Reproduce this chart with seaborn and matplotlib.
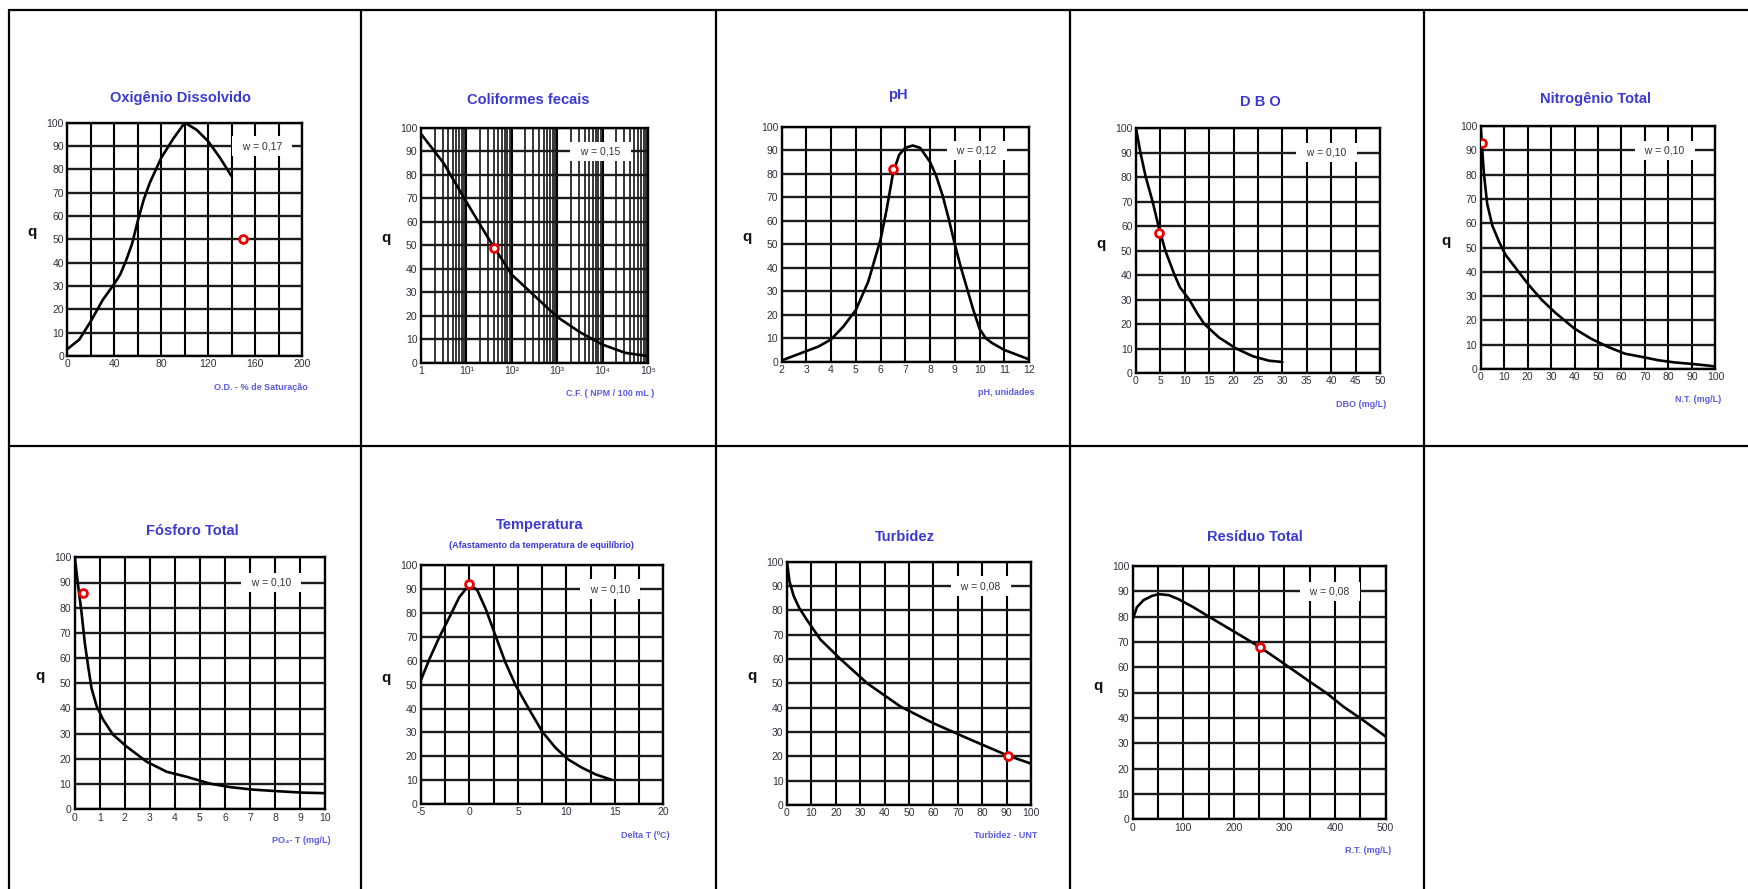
import matplotlib
matplotlib.use('Agg')
import matplotlib.pyplot as plt
from matplotlib.lines import Line2D
from matplotlib.ticker import LogLocator, NullFormatter
import pandas as pd
import seaborn as sns

# ---------------- data ----------------
od_x = [0, 10, 20, 30, 40, 45, 50, 55, 60, 65, 70, 80, 90, 100, 110, 120, 130, 140]
od_q = [3, 7, 15, 24, 31, 35, 41, 48, 58, 67, 74, 85, 93, 100, 97, 92, 85, 77]
od_pt = (150, 50)

cf_x = [1, 3.16, 10, 31.6, 100, 316, 1000, 3162, 10000, 31623, 100000]
cf_q = [97.5, 85, 68.5, 52.5, 37.5, 28.5, 19.5, 13, 7.7, 4.2, 2.8]
cf_pt = (40.7, 49)

ph_x = [2, 2.5, 3, 3.5, 4, 4.5, 5, 5.5, 6, 6.25, 6.5, 6.75, 7, 7.3, 7.6, 8, 8.25, 8.5,
        8.75, 9, 9.25, 9.5, 9.75, 10, 10.25, 10.5, 11, 11.5, 12]
ph_q = [0.5, 2.5, 4.5, 6.5, 9.5, 15, 22, 34, 52, 65, 80, 88, 91, 92, 91, 85, 79, 71,
        61, 50, 40, 31, 22, 14, 10, 8, 5, 3, 1]
ph_pt = (6.5, 82)

dbo_x = [0, 0.9, 2, 3.4, 4.6, 6, 7.9, 9, 10.9, 12.5, 14, 17, 20.5, 24, 27.3, 30]
dbo_q = [100, 90, 80, 70, 60, 50, 40, 35, 30, 24.5, 20, 14.5, 10, 6.8, 5, 4.5]
dbo_pt = (4.8, 57)

nt_x = [0, 0.5, 1.4, 2.8, 5, 7.8, 10.6, 14.9, 20.5, 26, 32, 40, 47, 54.5, 61.5, 68.6,
        75.7, 82.7, 89.8, 97, 100]
nt_q = [100, 93, 80.5, 68, 59, 52.5, 47, 41.6, 34.6, 28.5, 23, 16.6, 12.5, 9, 6.3, 5,
        3.6, 2.7, 2.1, 1.4, 1]
nt_pt = (0.7, 93)

pt_x = [0, 0.13, 0.27, 0.4, 0.53, 0.67, 0.87, 1.13, 1.53, 2.07, 2.87, 3.67, 4.47, 5.4,
        6.2, 7.13, 8.07, 9.13, 10]
pt_q = [100, 89, 78, 66, 57, 48, 41, 35.6, 29.6, 24.9, 18.9, 14.9, 12.9, 10.2, 8.8,
        7.8, 7.2, 6.6, 6.4]
pt_pt = (0.33, 86)

temp_x = [-5, -4.1, -3.1, -2.1, -1.06, 0, 0.8, 1.7, 2.7, 3.7, 4.76, 6.1, 7.5, 8.9,
          10.2, 11.6, 13, 14.6]
temp_q = [52, 61, 70, 78, 86.6, 92, 89.6, 81.4, 70.3, 59.3, 49.7, 40, 30.3, 23.4,
          18.6, 15.2, 12.4, 10.2]
temp_pt = (0, 92)

turb_x = [0, 1, 2.7, 5, 8.2, 13.7, 21.9, 32.9, 46.6, 60, 74, 90, 100]
turb_q = [100, 92, 86, 81, 76, 68, 60, 50, 40.4, 33.6, 27.4, 20.5, 17]
turb_pt = (90.5, 20)

rt_x = [0, 8, 21, 38, 51, 71, 90.5, 120, 153, 186, 219, 251, 285, 318, 351, 384, 417,
        450, 500]
rt_q = [79, 83.7, 86.5, 88.2, 88.9, 88.5, 86.9, 83.7, 79.7, 75.8, 71.9, 68, 63.4, 58.8,
        54.2, 49.7, 44.4, 39.9, 32.7]
rt_pt = (251, 68)

titles = ['Oxigênio Dissolvido', 'Coliformes fecais', 'pH', 'D B O', 'Nitrogênio Total',
          'Fósforo Total', 'Temperatura', 'Turbidez', 'Resíduo Total']
xlabels = ['O.D. - % de Saturação', 'C.F. ( NPM / 100 mL )', 'pH, unidades', 'DBO (mg/L)',
           'N.T. (mg/L)', 'PO₄- T (mg/L)', 'Delta T (ºC)', 'Turbidez - UNT', 'R.T. (mg/L)']
weights = ['0,17', '0,15', '0,12', '0,10', '0,10', '0,10', '0,10', '0,08', '0,08']
temp_subtitle = '(Afastamento da temperatura de equilíbrio)'
y_ticks = [0, 10, 20, 30, 40, 50, 60, 70, 80, 90, 100]

od_ticks = [0, 40, 80, 120, 160, 200]
cf_ticks = [1, 10, 100, 1000, 10000, 100000]
cf_ticklabels = ['1', '10¹', '10²', '10³', '10⁴', '10⁵']
ph_ticks = [2, 3, 4, 5, 6, 7, 8, 9, 10, 11, 12]
dbo_ticks = [0, 5, 10, 15, 20, 25, 30, 35, 40, 45, 50]
nt_ticks = [0, 10, 20, 30, 40, 50, 60, 70, 80, 90, 100]
pt_ticks = [0, 1, 2, 3, 4, 5, 6, 7, 8, 9, 10]
temp_ticks = [-5, 0, 5, 10, 15, 20]
turb_ticks = [0, 10, 20, 30, 40, 50, 60, 70, 80, 90, 100]
rt_ticks = [0, 100, 200, 300, 400, 500]

# ---------------- layout (pixels) ----------------
W, H = 1749, 889
sns.set_style('white')
plt.rcParams['font.family'] = ['Liberation Sans', 'DejaVu Sans']

fig = plt.figure(figsize=(W / 100, H / 100), dpi=100)
fig.patch.set_facecolor('white')

# table lines
for xv in [9, 361, 716.5, 1070, 1424]:
    fig.add_artist(Line2D([xv / W, xv / W], [0, 1 - 10 / H], transform=fig.transFigure,
                          color='black', lw=1.6))
for yv in [10, 446]:
    fig.add_artist(Line2D([9 / W, 1], [1 - yv / H, 1 - yv / H], transform=fig.transFigure,
                          color='black', lw=1.6))

boxes = [(67.5, 302, 122.7, 356), (421, 648, 128, 362.7), (781.6, 1029, 126.7, 361.7),
         (1136, 1380, 128, 373), (1480.6, 1715.4, 126, 369),
         (74.8, 325, 557.3, 809.3), (421, 663.5, 565.3, 804), (787, 1031, 561.7, 805),
         (1132.8, 1385.6, 566, 819.3)]
title_pos = [(181, 97.7), (528, 100), (898, 95), (1260, 101.7), (1596, 99),
             (192, 530.7), (540, 525), (905, 536.7), (1255, 536.7)]
wx = [0.83, 0.79, 0.79, 0.78, 0.785, 0.785, 0.78, 0.795, 0.78]

curves = [(od_x, od_q, od_pt), (cf_x, cf_q, cf_pt), (ph_x, ph_q, ph_pt), (dbo_x, dbo_q, dbo_pt),
          (nt_x, nt_q, nt_pt), (pt_x, pt_q, pt_pt), (temp_x, temp_q, temp_pt),
          (turb_x, turb_q, turb_pt), (rt_x, rt_q, rt_pt)]
xlims = [(0, 200), (1, 100000), (2, 12), (0, 50), (0, 100), (0, 10), (-5, 20), (0, 100), (0, 500)]
majors = [od_ticks, cf_ticks, ph_ticks, dbo_ticks, nt_ticks, pt_ticks, temp_ticks, turb_ticks, rt_ticks]
minor_steps = [20, None, None, None, None, None, 2.5, None, 50]

TITLE_C = '#3a3ad2'
XLAB_C = '#5c5ce0'
TICK_C = '#30303c'

for i, (l, r, t, b) in enumerate(boxes):
    ax = fig.add_axes([l / W, 1 - b / H, (r - l) / W, (b - t) / H])
    cx, cq, cpt = curves[i]
    df = pd.DataFrame({'x': cx, 'q': cq})
    if i == 1:
        ax.set_xscale('log')
    sns.lineplot(data=df, x='x', y='q', ax=ax, color='black', lw=1.9, sort=False,
                 estimator=None, zorder=3)
    sns.scatterplot(x=[cpt[0]], y=[cpt[1]], ax=ax, marker='o', s=32, facecolor='white',
                    edgecolor='#ee0000', linewidth=2.0, zorder=6)
    ax.set_xlim(*xlims[i])
    ax.set_ylim(0, 100)
    ax.set_yticks(y_ticks)
    ax.set_xticks(majors[i])
    if i == 1:
        ax.set_xticklabels(cf_ticklabels, family=['Liberation Sans', 'DejaVu Sans'])
        ax.xaxis.set_minor_locator(LogLocator(base=10, subs=[2, 3, 4, 5, 6, 7, 8, 9]))
        ax.xaxis.set_minor_formatter(NullFormatter())
        ax.grid(True, axis='x', which='minor', color='black', lw=1.1, zorder=1)
        ax.grid(True, axis='x', which='major', color='black', lw=1.5, zorder=1)
    else:
        ax.set_xticklabels([str(v) for v in majors[i]])
        if minor_steps[i] is not None:
            lo, hi = xlims[i]
            n = int(round((hi - lo) / minor_steps[i]))
            ax.set_xticks([lo + k * minor_steps[i] for k in range(n + 1)], minor=True)
        ax.grid(True, axis='x', which='both', color='black', lw=1.5, zorder=1)
    ax.grid(True, axis='y', which='major', color='#1c1c1c', lw=1.7, zorder=1)
    ax.set_axisbelow(True)
    ax.tick_params(axis='both', which='both', length=0, pad=2.5, labelsize=7.5, labelcolor=TICK_C)
    for s in ax.spines.values():
        s.set_color('black')
        s.set_linewidth(1.7)
        s.set_visible(True)
    ax.set_xlabel('')
    ax.set_ylabel('q', rotation=0, fontsize=11, fontweight='bold', color='#111111')
    ax.yaxis.set_label_coords(-35 / (r - l), 0.5)
    ax.annotate(xlabels[i], xy=(1, 0), xycoords='axes fraction', xytext=(6, -31),
                textcoords='offset pixels', ha='right', va='center', fontsize=6.5,
                fontweight='bold', color=XLAB_C)
    ax.text(wx[i], 0.9, '  w = ' + weights[i] + '  ', transform=ax.transAxes, ha='center',
            va='center', fontsize=7.5, color='#333333',
            bbox=dict(boxstyle='square,pad=0.45', fc='white', ec='none'), zorder=5)
    tx, ty = title_pos[i]
    fig.text(tx / W, 1 - ty / H, titles[i], ha='center', va='center', fontsize=10.5,
             fontweight='bold', color=TITLE_C)

fig.text(541.8 / W, 1 - 546 / H, temp_subtitle, ha='center', va='center', fontsize=6.5,
         fontweight='bold', color=TITLE_C)

fig.savefig('out.png', dpi=100, facecolor='white')
